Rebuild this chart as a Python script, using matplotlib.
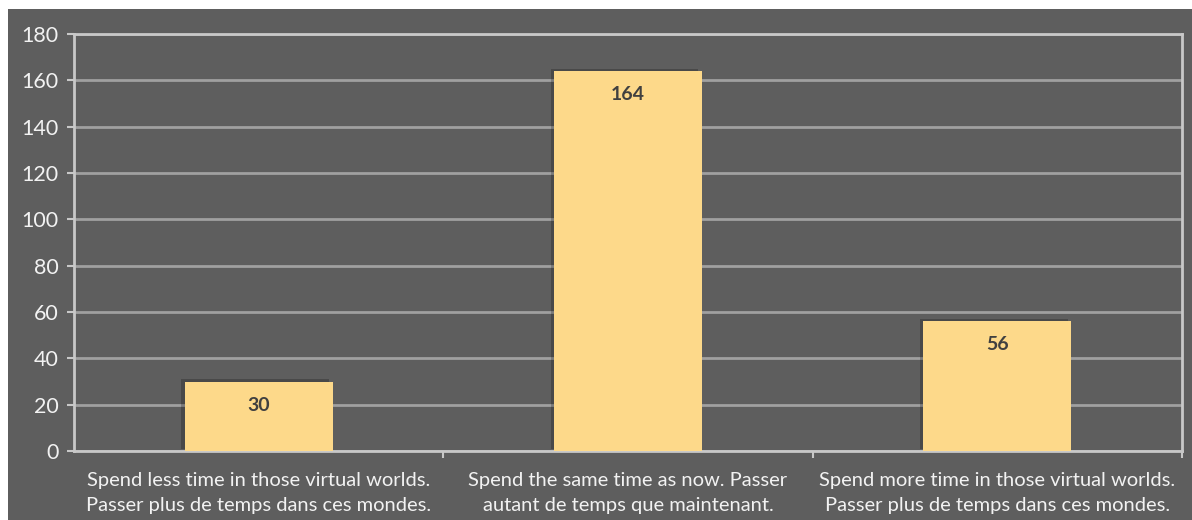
import matplotlib.pyplot as plt
import matplotlib.patheffects as pe
import numpy as np

categories = ['Spend less time in those virtual worlds.\nPasser plus de temps dans ces mondes.',
              'Spend the same time as now. Passer\nautant de temps que maintenant.',
              'Spend more time in those virtual worlds.\nPasser plus de temps dans ces mondes.']
values = [30, 164, 56]
yticks = [0, 20, 40, 60, 80, 100, 120, 140, 160, 180]

bg = '#5e5e5e'
bar_color = '#fdd98a'

plt.rcParams['font.family'] = ['Lato', 'DejaVu Sans']

fig = plt.figure(figsize=(11.92, 5.2), dpi=100)
fig.patch.set_facecolor('white')
# gray panel behind the chart
back = fig.add_axes([8 / 1192, 0, 1 - 8 / 1192, 511 / 520])
back.set_facecolor(bg)
back.set_xticks([])
back.set_yticks([])
for s in back.spines.values():
    s.set_visible(False)

ax = fig.add_axes([74 / 1192, 69 / 520, 1108 / 1192, 417 / 520])
ax.set_facecolor(bg)
x = np.arange(len(categories))
bars = ax.bar(x, values, width=0.4, color=bar_color, zorder=3,
              path_effects=[pe.SimplePatchShadow(offset=(-2.5, 1.5), shadow_rgbFace='black', alpha=0.22),
                            pe.Normal()])
for xi, v in zip(x, values):
    ax.annotate(str(v), (xi, v), xytext=(0, -17), textcoords='offset points',
                ha='center', va='center', fontsize=14, fontweight='bold', color='#404040', zorder=4)

ax.set_xlim(-0.5, 2.5)
ax.set_ylim(0, 180)
ax.set_yticks(yticks)
ax.yaxis.grid(True, color='#a0a0a0', linewidth=2)
ax.set_axisbelow(True)
ax.set_xticks(x)
ax.set_xticklabels(categories, fontsize=14.5, color='#f2f2f2', linespacing=1.6)
ax.tick_params(axis='x', length=0, pad=15)
ax.set_xticks([0.5, 1.5, 2.5], minor=True)
ax.tick_params(axis='x', which='minor', length=5, color='#c8c8c8', width=1.5)
ax.tick_params(axis='y', labelsize=15.5, labelcolor='#f2f2f2', length=5, color='#c8c8c8', width=1.5, pad=6)
for s in ['left', 'bottom', 'top', 'right']:
    ax.spines[s].set_color('#c8c8c8')
    ax.spines[s].set_linewidth(2)

fig.savefig('out.png', dpi=100, facecolor='white')
